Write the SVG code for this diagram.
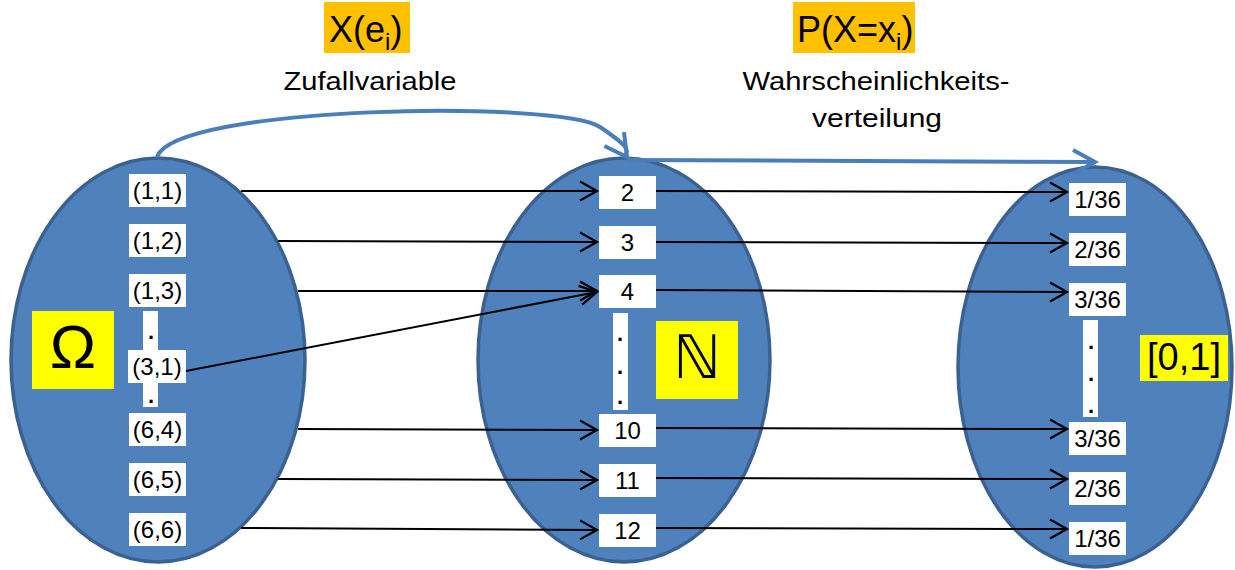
<svg xmlns="http://www.w3.org/2000/svg" width="1235" height="570" viewBox="0 0 1235 570">
<defs>
<style>
.ell{fill:#4F81BD;stroke:#3B6190;stroke-width:3.5}
.box{fill:#FFFFFF}
.lbl{font-family:"Liberation Sans",Arial,sans-serif;font-size:24px;fill:#000;text-anchor:middle}
.dot{font-family:"Liberation Sans",Arial,sans-serif;font-size:22px;fill:#000;text-anchor:middle;font-weight:bold}
.title{font-family:"Liberation Sans",Arial,sans-serif;font-size:36px;fill:#000}
.sub{font-family:"Liberation Sans",Arial,sans-serif;font-size:26px;fill:#000;text-anchor:middle}
.blk{stroke:#000;stroke-width:2;fill:none;marker-end:url(#ah)}
.blu{stroke:#4A7EBB;stroke-width:4;fill:none;marker-end:url(#bh)}
</style>
<marker id="ah" markerUnits="userSpaceOnUse" markerWidth="20" markerHeight="22" refX="17" refY="9.5" orient="auto" overflow="visible">
<path d="M0,0 L17,9.5 L0,19" fill="none" stroke="#000" stroke-width="2.2"/>
</marker>
<marker id="bh" markerUnits="userSpaceOnUse" markerWidth="30" markerHeight="30" refX="22" refY="12" orient="auto" overflow="visible">
<path d="M0,0 L22,12 L0,24" fill="none" stroke="#4A7EBB" stroke-width="4"/>
</marker>
</defs>
<rect width="1235" height="570" fill="#fff"/>

<g id="title-x">
<rect x="324" y="2" width="86" height="51" fill="#FFC000"/>
<text class="title" x="329" y="42">X(e<tspan font-size="24" dy="8">i</tspan><tspan dy="-8">)</tspan></text>
<text class="sub" x="370" y="90" textLength="173" lengthAdjust="spacingAndGlyphs">Zufallvariable</text>
</g>
<g id="title-p">
<rect x="793" y="2" width="122" height="51" fill="#FFC000"/>
<text class="title" x="797" y="42">P(X=x<tspan font-size="24" dy="8">i</tspan><tspan dy="-8">)</tspan></text>
<text class="sub" x="876" y="90" textLength="267" lengthAdjust="spacingAndGlyphs">Wahrscheinlichkeits-</text>
<text class="sub" x="877" y="127" textLength="130" lengthAdjust="spacingAndGlyphs">verteilung</text>
</g>

<g id="omega-set">
<ellipse class="ell" cx="158" cy="360" rx="147" ry="202"/>
<rect x="32" y="311" width="82" height="78" fill="#FFFF00"/>
<text x="73" y="368" font-family="Liberation Sans, Arial, sans-serif" font-size="62" text-anchor="middle">Ω</text>
<rect class="box" x="143" y="311" width="15" height="96"/>
<text class="dot" x="151" y="339">.</text>
<text class="dot" x="151" y="403">.</text>
</g>
<g id="o11"><rect class="box" x="129" y="174" width="57" height="33"/><text class="lbl" x="157.5" y="199">(1,1)</text></g>
<g id="o12"><rect class="box" x="129" y="224" width="57" height="33"/><text class="lbl" x="157.5" y="249">(1,2)</text></g>
<g id="o13"><rect class="box" x="129" y="274" width="57" height="33"/><text class="lbl" x="157.5" y="299">(1,3)</text></g>
<g id="o31"><rect class="box" x="128" y="350" width="58" height="33"/><text class="lbl" x="157" y="375">(3,1)</text></g>
<g id="o64"><rect class="box" x="129" y="413" width="57" height="33"/><text class="lbl" x="157.5" y="438">(6,4)</text></g>
<g id="o65"><rect class="box" x="129" y="463" width="57" height="33"/><text class="lbl" x="157.5" y="488">(6,5)</text></g>
<g id="o66"><rect class="box" x="129" y="513" width="57" height="33"/><text class="lbl" x="157.5" y="538">(6,6)</text></g>

<g id="n-set">
<ellipse class="ell" cx="624" cy="360" rx="146" ry="202"/>
<rect x="656" y="321" width="82" height="78" fill="#FFFF00"/>
<text x="697" y="378" font-family="DejaVu Sans, sans-serif" font-size="60" text-anchor="middle">ℕ</text>
<rect class="box" x="613" y="313" width="15" height="97"/>
<text class="dot" x="620" y="341">.</text>
<text class="dot" x="620" y="374">.</text>
<text class="dot" x="620" y="404">.</text>
</g>
<g id="n2"><rect class="box" x="599" y="176" width="57" height="33"/><text class="lbl" x="627.5" y="201">2</text></g>
<g id="n3"><rect class="box" x="599" y="226" width="57" height="33"/><text class="lbl" x="627.5" y="251">3</text></g>
<g id="n4"><rect class="box" x="599" y="275" width="57" height="33"/><text class="lbl" x="627.5" y="300">4</text></g>
<g id="n10"><rect class="box" x="599" y="414" width="57" height="33"/><text class="lbl" x="627.5" y="439">10</text></g>
<g id="n11"><rect class="box" x="599" y="464" width="57" height="33"/><text class="lbl" x="627.5" y="489">11</text></g>
<g id="n12"><rect class="box" x="599" y="514" width="57" height="33"/><text class="lbl" x="627.5" y="539">12</text></g>

<g id="p-set">
<ellipse class="ell" cx="1095" cy="367" rx="137" ry="200"/>
<rect x="1140" y="335" width="88" height="46" fill="#FFFF00"/>
<text x="1184" y="370" font-family="Liberation Sans, Arial, sans-serif" font-size="38" text-anchor="middle">[0,1]</text>
<rect class="box" x="1083" y="320" width="15" height="97"/>
<text class="dot" x="1091" y="349">.</text>
<text class="dot" x="1091" y="381">.</text>
<text class="dot" x="1091" y="413">.</text>
</g>
<g id="p1"><rect class="box" x="1069" y="183" width="57" height="33"/><text class="lbl" x="1097.5" y="208">1/36</text></g>
<g id="p2"><rect class="box" x="1069" y="233" width="57" height="33"/><text class="lbl" x="1097.5" y="258">2/36</text></g>
<g id="p3"><rect class="box" x="1069" y="283" width="57" height="33"/><text class="lbl" x="1097.5" y="308">3/36</text></g>
<g id="p4"><rect class="box" x="1069" y="422" width="57" height="33"/><text class="lbl" x="1097.5" y="447">3/36</text></g>
<g id="p5"><rect class="box" x="1069" y="472" width="57" height="33"/><text class="lbl" x="1097.5" y="497">2/36</text></g>
<g id="p6"><rect class="box" x="1069" y="522" width="57" height="33"/><text class="lbl" x="1097.5" y="547">1/36</text></g>

<g id="connectors">
<path class="blk" d="M241,191 L597,191"/>
<path class="blk" d="M278,241 L597,242"/>
<path class="blk" d="M298,291 L597,291"/>
<path class="blk" d="M186,371 L597,292"/>
<path class="blk" d="M298,429 L597,430"/>
<path class="blk" d="M278,479 L597,480"/>
<path class="blk" d="M241,528 L597,530"/>
<path class="blk" d="M656,191 L1067,192"/>
<path class="blk" d="M656,242 L1067,243"/>
<path class="blk" d="M656,290 L1067,292"/>
<path class="blk" d="M656,428 L1067,429"/>
<path class="blk" d="M656,478 L1067,479"/>
<path class="blk" d="M656,528 L1067,529"/>
<path class="blu" d="M157,157 C175,105 560,100 600,127 S622,150 627,157"/>
<path class="blu" d="M627,160 L1095,162"/>
</g>
</svg>
